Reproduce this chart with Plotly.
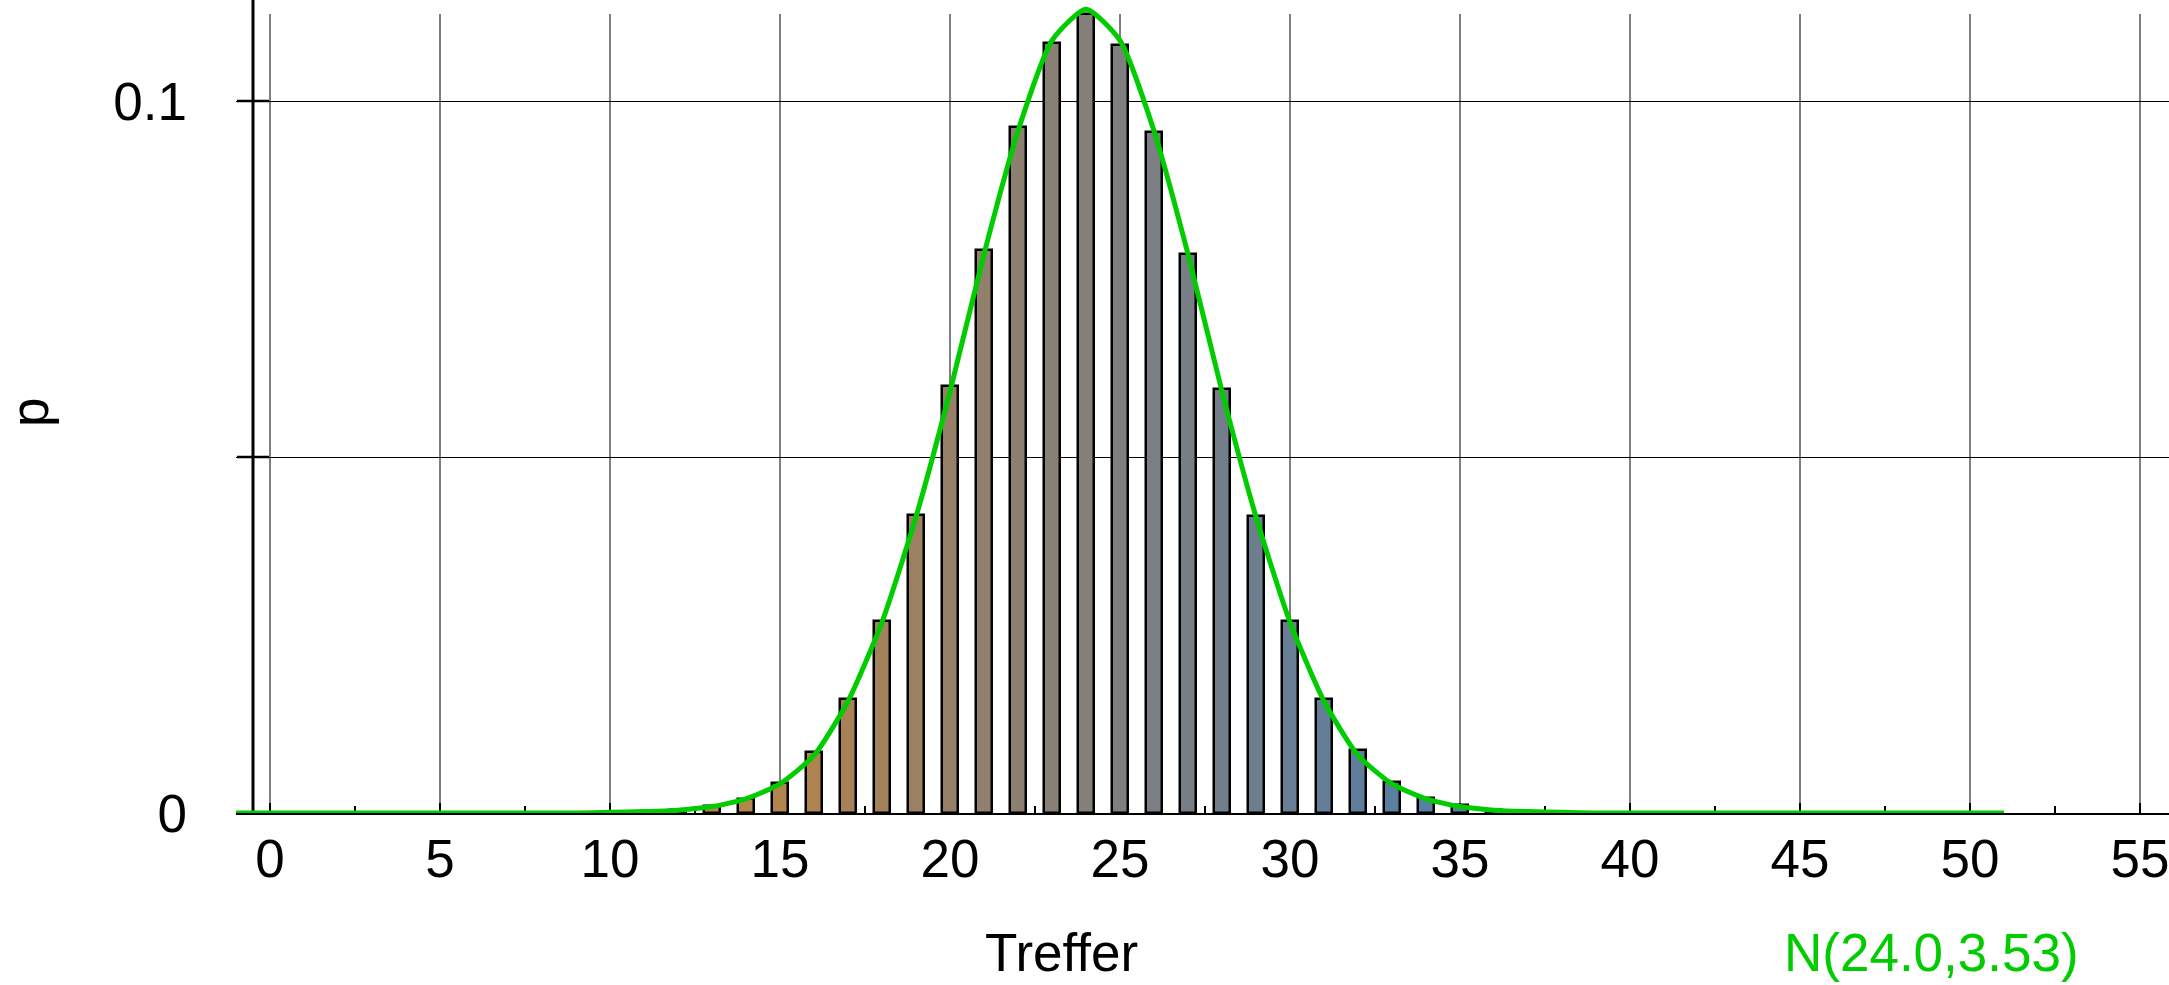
import plotly.graph_objects as go

# ---- data ----
k_values = list(range(12, 37))
p_values = [0.0004, 0.0010, 0.0019, 0.0042, 0.0086, 0.0160, 0.0269, 0.0419,
            0.0600, 0.0791, 0.0963, 0.1081, 0.1122, 0.1079, 0.0957, 0.0785,
            0.0596, 0.0417, 0.0270, 0.0160, 0.0088, 0.0044, 0.0021, 0.0011,
            0.0004]
bar_colors = ["#B88648", "#B6864A", "#B4854C", "#B2844E", "#AE8452", "#A88256",
              "#A2825C", "#9C8062", "#968068", "#91806C", "#8C8070", "#888074",
              "#847F79", "#7F7F7F", "#7B7E83", "#777E86", "#727E8A", "#6D7E8F",
              "#687E94", "#647E98", "#607E9C", "#5C7EA0", "#587EA4", "#557EA8",
              "#527EAB"]

curve_x = list(range(-1, 52))
curve_y = ([0.0] * 11 +
           [0.0001, 0.0002, 0.0004, 0.0009, 0.0020, 0.0041, 0.0081, 0.0157,
            0.0268, 0.0416, 0.0592, 0.0785, 0.0958, 0.1085, 0.1129, 0.1085,
            0.0958, 0.0785, 0.0592, 0.0416, 0.0268, 0.0157, 0.0081, 0.0041,
            0.0020, 0.0009, 0.0004, 0.0002, 0.0001] +
           [0.0] * 13)

x_major = list(range(0, 56, 5))
x_minor = [2.5 + 5 * i for i in range(11)]
y_ticks = [0, 0.05, 0.1]
y_ticktext = ["0", "", "0.1"]
x_title = "Treffer"
y_title = "p"
curve_label = "N(24.0,3.53)"

# ---- layout geometry ----
W, H = 2169, 985
ML, MB = 236, 172
PX_PER_UNIT = 34.0
x_range = [-1, -1 + (W - ML) / PX_PER_UNIT]
plot_h = H - MB
y_range = [0, 0.1 * plot_h / 712.0]
FONT = "Liberation Sans, Arial, sans-serif"
GREEN = "#00CC00"

fig = go.Figure()
fig.add_trace(go.Bar(
    x=k_values, y=p_values, width=0.47,
    marker=dict(color=bar_colors, line=dict(color="black", width=2.5)),
    showlegend=False, hoverinfo="x+y"))
fig.add_trace(go.Scatter(
    x=curve_x, y=curve_y, mode="lines",
    line=dict(color=GREEN, width=5, shape="spline", smoothing=0.6),
    showlegend=False, hoverinfo="skip"))

shapes = []
grid_top = (plot_h - 14) / plot_h
for xv in x_major:
    shapes.append(dict(type="line", xref="x", yref="paper", x0=xv, x1=xv, y0=0, y1=grid_top,
                       line=dict(color="#555555", width=1.5), layer="between"))
# x tick marks crossing the axis
for xv in x_major:
    shapes.append(dict(type="line", xref="x", yref="y", ysizemode="pixel", yanchor=0,
                       x0=xv, x1=xv, y0=-10, y1=10, line=dict(color="black", width=2), layer="between"))
for xv in x_minor:
    shapes.append(dict(type="line", xref="x", yref="y", ysizemode="pixel", yanchor=0,
                       x0=xv, x1=xv, y0=-7, y1=7, line=dict(color="black", width=2), layer="between"))
# y axis line at x=-0.5
shapes.append(dict(type="line", xref="x", yref="paper", x0=-0.5, x1=-0.5, y0=0, y1=1,
                   line=dict(color="black", width=3), layer="between"))
for yv in y_ticks[1:]:
    shapes.append(dict(type="line", xref="x", yref="y", xsizemode="pixel", xanchor=-0.5,
                       x0=-16, x1=16, y0=yv, y1=yv, line=dict(color="black", width=2.5), layer="between"))

def px_to_paper_x(px):
    return (px - ML) / (W - ML)

def px_to_paper_y(py):
    return (plot_h - py) / plot_h

annotations = [
    dict(text=x_title, x=px_to_paper_x(1061), y=px_to_paper_y(953), xref="paper", yref="paper",
         showarrow=False, xanchor="center", yanchor="middle", font=dict(size=53, color="black", family=FONT)),
    dict(text=curve_label, x=px_to_paper_x(1931), y=px_to_paper_y(953), xref="paper", yref="paper",
         showarrow=False, xanchor="center", yanchor="middle", font=dict(size=53, color=GREEN, family=FONT)),
    dict(text=y_title, x=px_to_paper_x(29), y=px_to_paper_y(413), xref="paper", yref="paper",
         showarrow=False, xanchor="center", yanchor="middle", textangle=-90,
         font=dict(size=53, color="black", family=FONT)),
]

fig.update_layout(
    width=W, height=H,
    margin=dict(l=ML, r=0, t=0, b=MB, pad=0),
    paper_bgcolor="white", plot_bgcolor="white",
    font=dict(family=FONT, size=53, color="black"),
    shapes=shapes, annotations=annotations,
    bargap=0,
    xaxis=dict(range=x_range, tickvals=x_major, ticktext=[str(v) for v in x_major], ticks="",
               showgrid=False, zeroline=False, showline=True, linecolor="black", linewidth=2,
               layer="below traces", ticklabelstandoff=-2, ticklabeloverflow="allow",
               tickfont=dict(size=53, family=FONT)),
    yaxis=dict(range=y_range, tickvals=y_ticks, ticktext=y_ticktext, ticks="",
               showgrid=True, gridcolor="black", gridwidth=1, zeroline=False, showline=False,
               layer="below traces", ticklabelstandoff=48, tickfont=dict(size=53, family=FONT)),
)

fig.write_html("out.html", config={"displayModeBar": False},
               post_script="document.body.style.margin='0';document.body.style.overflow='hidden';")
